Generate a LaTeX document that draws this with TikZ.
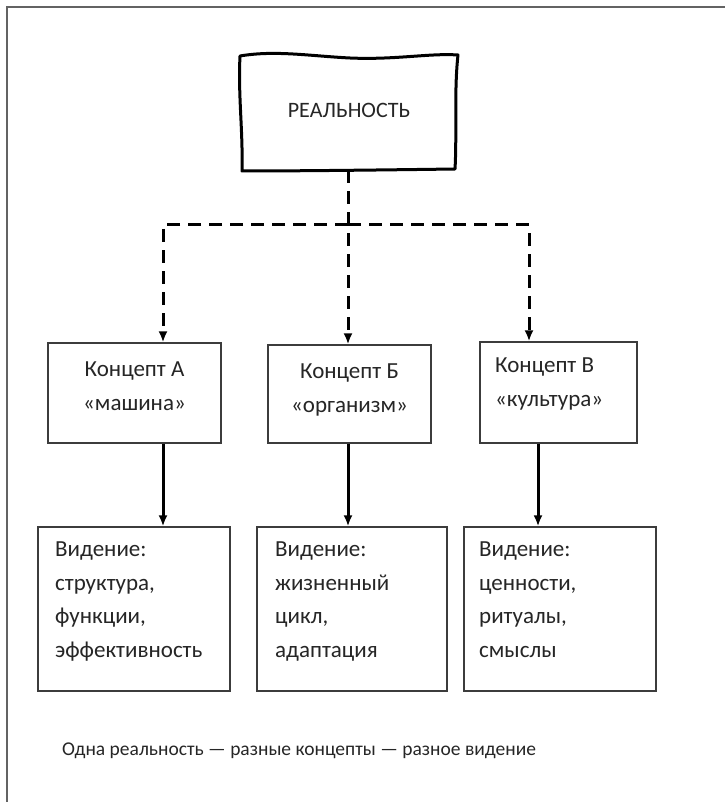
\documentclass[tikz,border=0pt]{standalone}
\usepackage{fontspec}
\setmainfont{Carlito}
\usetikzlibrary{arrows.meta,calc}

\definecolor{ink}{HTML}{262626}
\definecolor{edge}{HTML}{3C3C3C}

\tikzset{
  box/.style={draw=edge, line width=1.3pt, inner sep=0pt, fill=white},
  txt/.style={inner sep=0pt, text=ink, align=left, anchor=north west,
    font=\fontsize{23}{33.5}\selectfont},
  ctxt/.style={txt, align=center, anchor=north},
  dashline/.style={line width=3pt, dash pattern=on 13pt off 8pt, draw=black},
  solidline/.style={line width=3pt, draw=black},
  tip/.style={-{Latex[length=11pt,width=9pt]}},
  wavy/.style={line width=3pt, draw=black, line join=round},
}

\begin{document}
\begin{tikzpicture}[x=1pt, y=-1pt]
  \useasboundingbox (0,0) rectangle (724,802);
  \fill[white] (0,0) rectangle (724,802);

  % outer frame (its right and bottom sides lie off the page)
  \draw[draw=edge!80, line width=1.6pt] (740,7) -- (7,7) -- (7,820);

  % top box with a hand-drawn outline
  \node[minimum width=218pt, minimum height=114pt, inner sep=0pt] (real) at (348,113) {};
  \draw[wavy]
    (240,56) .. controls (275,50) and (310,56) .. (350,58)
             .. controls (395,60) and (430,53) .. (458,55)
             .. controls (454,90) and (457,135) .. (455,169)
             .. controls (380,170) and (300,171) .. (242,171)
             .. controls (243,130) and (238,95) .. (240,56) -- cycle;
  \node[inner sep=0pt, text=ink, anchor=base, font=\fontsize{22}{26}\selectfont]
    (realtext) at (349,118) {РЕАЛЬНОСТЬ};

  % concept boxes
  \node[box, minimum width=173pt, minimum height=100pt] (cA) at (134.5,393) {};
  \node[box, minimum width=163pt, minimum height=98pt]  (cB) at (349.5,394) {};
  \node[box, minimum width=157pt, minimum height=101pt] (cC) at (558.5,392.5) {};

  \node[ctxt] (tA) at (134.5,362) {Концепт А\\«машина»};
  \node[ctxt] (tB) at (349.5,364) {Концепт Б\\«организм»};
  \node[txt]  (tC) at (495,358)   {Концепт В\\«культура»};

  % vision boxes
  \node[box, minimum width=192pt, minimum height=164pt] (vA) at (134,609) {};
  \node[box, minimum width=190pt, minimum height=164pt] (vB) at (352,609) {};
  \node[box, minimum width=192pt, minimum height=164pt] (vC) at (560,609) {};

  \node[txt] (uA) at (55,542)  {Видение:\\структура,\\функции,\\эффективность};
  \node[txt] (uB) at (275,542) {Видение:\\жизненный\\цикл,\\адаптация};
  \node[txt] (uC) at (479,542) {Видение:\\ценности,\\ритуалы,\\смыслы};

  % branching points of the dashed connectors
  \coordinate (jA) at (163,225);
  \coordinate (jB) at (348,225);
  \coordinate (jC) at (529,225);
  \coordinate (sC) at (538,450);

  \draw[dashline, tip] (real.south) -- (real.south |- cB.north);
  \draw[dashline, tip] (jB) -- (jA) -- (jA |- cA.north);
  \draw[dashline, tip] (jB) -- (jC) -- (jC |- cC.north);

  % solid connectors from concept to vision
  \draw[solidline, tip] (cA.south -| jA) -- (vA.north -| jA);
  \draw[solidline, tip] (cB.south -| jB) -- (vB.north -| jB);
  \draw[solidline, tip] (cC.south -| sC) -- (vC.north -| sC);

  % caption
  \node[inner sep=0pt, text=ink, anchor=base west, font=\fontsize{19.5}{23}\selectfont]
    (caption) at (62,755) {Одна реальность — разные концепты — разное видение};
\end{tikzpicture}
\end{document}
